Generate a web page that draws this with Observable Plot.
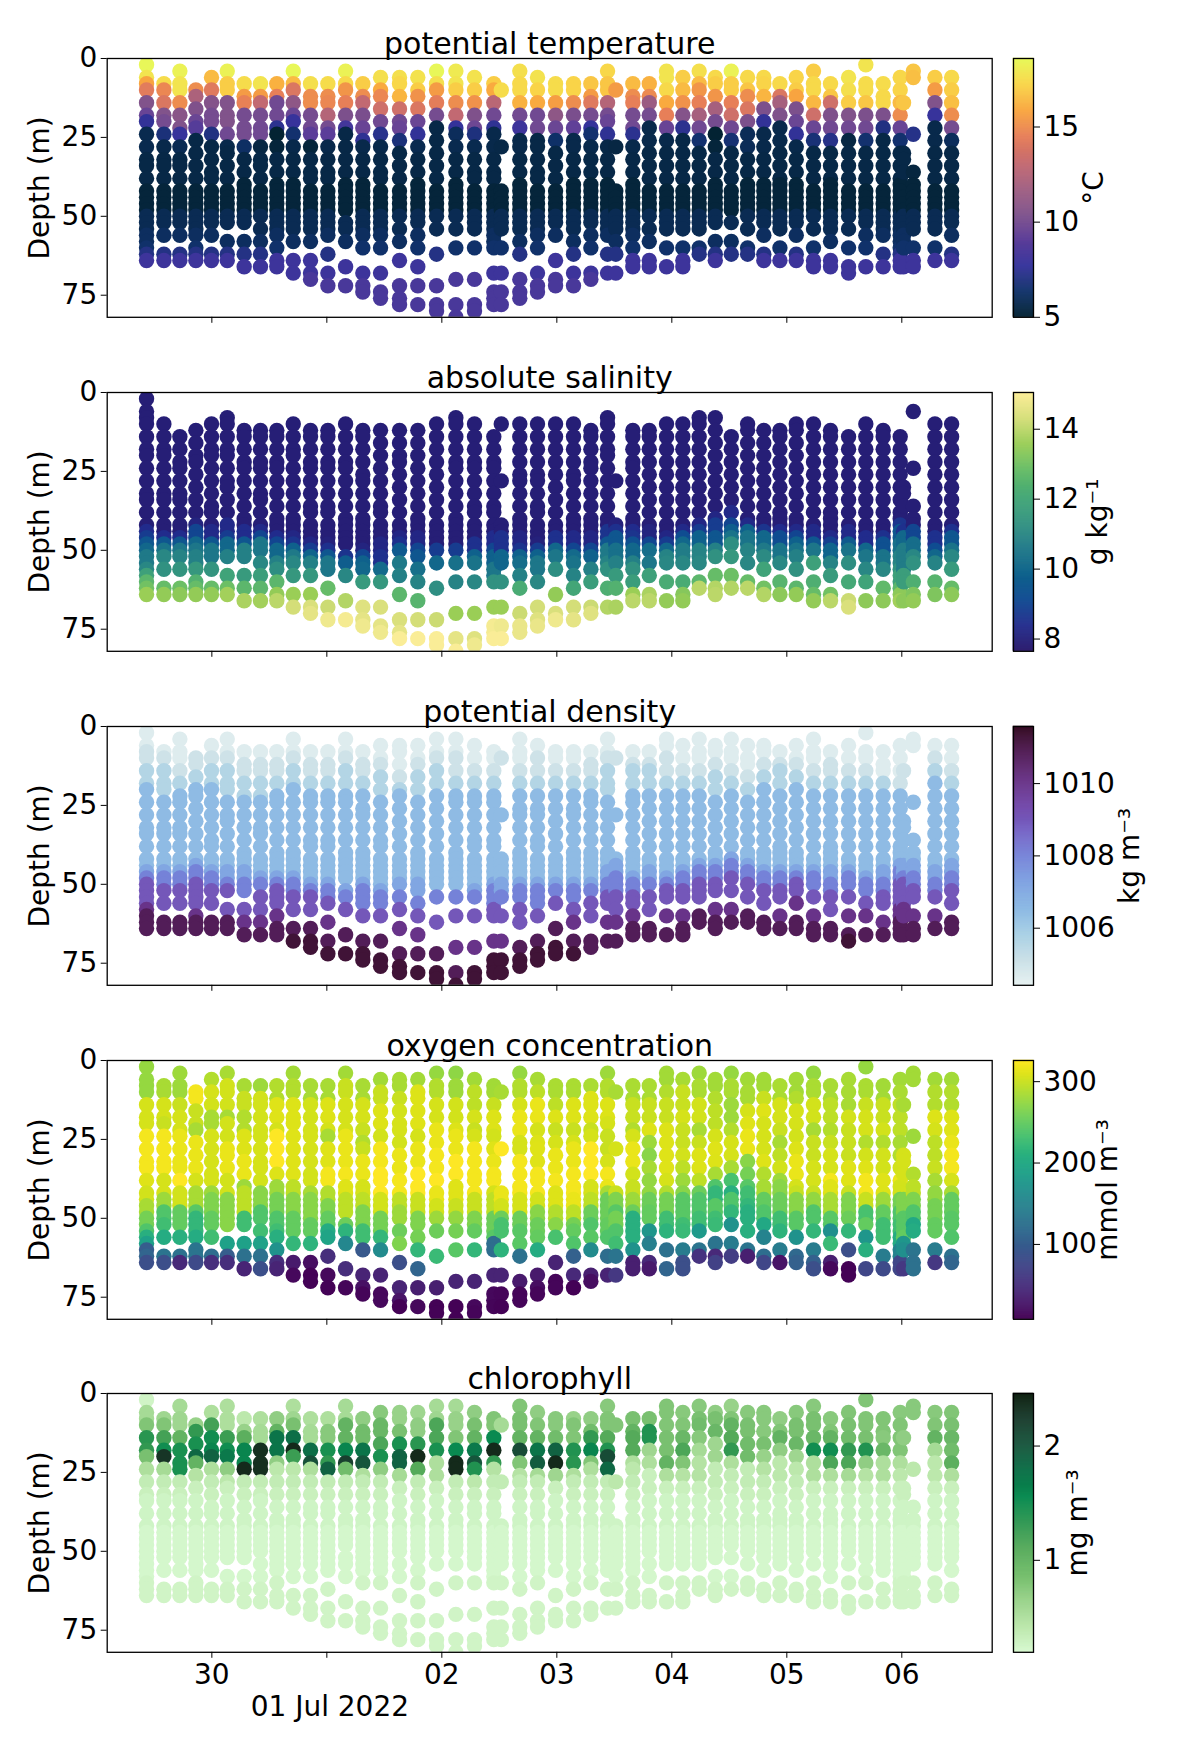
<!DOCTYPE html>
<html><head><meta charset="utf-8">
<script src="https://cdn.jsdelivr.net/npm/d3@7"></script>
<script src="https://cdn.jsdelivr.net/npm/@observablehq/plot@0.6"></script>
<style>
html,body{margin:0;padding:0;background:#fff}
#page{position:relative;width:1200px;height:1750px;overflow:hidden}
#page svg{position:absolute;overflow:visible;background:transparent}
</style></head><body><div id="page"></div>
<script>
// days after 30 Jun 2022 00:00 for each profile
const profileDays=[-0.568,-0.417,-0.278,-0.139,-0.003,0.134,0.281,0.423,0.565,0.708,0.858,1.009,1.163,1.313,1.467,1.632,1.791,1.954,2.122,2.284,2.452,2.517,2.678,2.832,2.989,3.145,3.296,3.441,3.513,3.661,3.804,3.954,4.096,4.238,4.378,4.517,4.659,4.80,4.94,5.082,5.232,5.38,5.537,5.687,5.838,5.986,6.015,6.10,6.288,6.433];
const profileDepths=[
[2,6,8,10,14,18,20,24,28,32,34,38,42,44,46,48,50,52,54,56,58,60,62,64],
[8,10,14,18,20,24,28,32,34,38,42,44,46,48,50,52,56,62,64],
[4,8,10,14,18,22,24,28,32,34,38,42,44,46,48,50,52,56,62,64],
[10,12,16,20,22,26,30,34,38,42,44,46,48,50,52,54,56,60,62,64],
[6,10,14,18,20,24,28,32,36,38,42,44,46,48,50,52,56,62,64],
[4,8,10,14,18,20,24,28,30,34,38,42,44,46,48,50,52,58,62,64],
[8,12,14,18,22,24,28,32,36,40,42,44,46,48,50,52,58,62,66],
[8,12,14,18,22,24,28,32,34,38,42,44,46,48,50,54,58,62,66],
[8,12,14,18,22,24,28,32,36,40,42,44,46,48,50,52,54,56,60,64,66],
[4,8,10,14,18,20,24,28,32,36,40,42,44,46,48,50,52,54,58,64,68],
[8,12,14,18,22,24,28,32,36,38,42,44,46,48,50,52,54,58,64,68,70],
[8,12,14,18,22,24,28,32,36,38,42,44,46,48,50,52,54,56,62,68,72],
[4,8,10,14,18,22,24,28,32,36,40,42,44,46,48,52,54,58,66,72],
[8,12,14,18,22,26,28,32,36,40,42,44,46,48,50,52,54,56,60,68,72,74],
[6,10,12,16,20,24,28,32,36,38,42,44,46,48,50,52,54,56,60,68,74,76],
[6,8,12,16,20,22,26,30,34,38,42,44,46,48,50,54,58,64,72,76,78],
[6,10,12,16,20,24,28,32,36,40,42,44,46,48,50,52,56,60,66,72,78],
[4,8,10,14,18,22,26,30,34,38,42,44,46,48,50,54,62,72,78,80],
[4,8,10,14,18,22,24,28,32,36,40,42,44,46,48,50,54,60,70,78,82],
[6,10,14,18,22,24,28,32,36,38,42,44,46,48,50,52,54,60,70,78,80],
[8,10,14,18,22,24,28,32,36,38,42,44,46,48,50,52,54,56,58,60,68,74,76,78],
[10,28,42,44,46,48,50,52,54,60,68,74,78],
[4,8,10,14,18,22,26,28,32,36,40,42,44,46,48,50,52,54,58,62,70,74,76],
[6,10,14,18,22,26,28,32,36,38,42,44,46,48,50,52,54,56,60,68,72,74],
[8,10,14,18,22,26,30,34,38,42,44,46,48,50,52,56,64,70,72],
[8,10,14,18,22,26,28,32,36,40,42,44,46,48,50,52,54,58,62,68,72],
[8,12,14,18,22,24,28,32,36,40,42,44,46,48,50,52,56,60,68,70],
[4,8,10,14,18,20,24,28,32,36,40,42,44,46,48,50,52,54,56,62,68],
[10,28,42,44,46,48,50,52,54,58,62,68],
[8,12,14,18,22,24,28,32,36,40,42,44,46,48,50,52,54,56,60,64,66],
[8,12,14,18,22,26,30,34,38,42,44,46,48,50,54,58,64,66],
[4,6,10,14,18,22,26,30,34,38,42,44,46,48,50,52,54,60,66],
[6,10,14,18,22,26,30,34,38,42,44,46,48,50,52,54,60,64,66],
[4,8,10,14,18,22,26,30,34,38,42,44,46,48,50,52,54,60,62],
[6,8,12,16,20,24,28,32,36,40,42,44,46,48,50,52,58,62,64],
[4,8,10,14,18,22,26,30,34,38,42,44,46,48,52,58,62],
[6,10,12,16,20,24,28,32,36,40,42,44,46,48,50,54,60,62],
[6,8,12,16,20,24,28,32,36,40,42,44,46,48,50,52,56,62,64],
[8,12,14,18,22,26,30,34,38,40,42,44,46,48,50,52,54,60,64],
[6,10,12,16,20,24,28,32,36,40,42,44,46,48,50,52,56,62,64],
[4,8,10,14,18,22,26,30,34,38,42,44,46,48,50,54,60,64,66],
[8,12,14,18,22,26,30,34,38,40,42,44,46,48,50,52,54,58,64,66],
[6,10,14,18,22,26,30,34,38,42,44,46,48,50,54,60,66,68],
[2,8,10,14,18,22,26,30,34,38,42,44,46,48,50,52,56,60,66],
[8,12,14,18,22,26,30,34,38,42,44,46,48,50,52,54,56,62,66],
[6,10,14,18,22,26,30,34,38,40,42,44,46,48,50,52,54,56,58,60,62,64,66],
[14,30,32,36,44,46,48,50,52,54,56,58,60,66],
[4,6,24,36,40,42,44,46,48,50,52,54,60,64,66],
[6,10,14,18,22,26,30,34,38,42,44,46,48,50,52,54,60,64],
[6,10,14,18,22,26,30,34,38,42,44,46,48,50,52,56,62,64]];
// shallowest depth with a salinity reading, per profile
const salinityFirstDepth=[2,10,12,12,10,8,12,10,10,10,12,12,10,12,12,10,12,10,8,10,12,10,10,10,10,10,10,8,28,12,10,10,10,8,8,12,10,10,10,8,10,10,12,10,10,12,30,6,10,10];

// each list: depth, value, depth, value... the value holds from that depth down to the next one
const tempBands=[
[2,18.5,6,17.8,8,15.8,10,14.3,14,10.5,16,9.8,18,9.5,20,7.6,24,5.7],
[8,17.5,10,14.8,14,14,16,10.5,20,10,24,6.8,28,5.6],
[4,18.3,8,17.8,12,15.5,14,15,18,10.8,22,10.5,24,7.8,28,5.8],
[10,15,12,12.2,16,10.4,20,9.6,22,8.8,24,8,26,5.5],
[6,16.5,10,14.2,14,10.6,18,10,22,9.5,24,7,26,5.5],
[4,18.3,8,17,12,15,14,10.5,18,10.5,22,9.8,26,7.8,28,5.6],
[8,17.5,12,15.5,14,14.6,18,10,26,10,28,6.2,30,5.5],
[8,17.8,12,15.5,14,13,16,11,18,10,22,9.8,26,7.6,28,5.4],
[8,16.2,10,14.5,14,9.8,20,8.5,22,7.4,24,5,28,5.2],
[4,18.5,8,16.5,10,14,14,11,18,9.6,20,7.8,24,6.5,26,5.6],
[8,17.6,12,15,16,12.5,18,10,22,9.8,24,9,26,6.5,28,5.2],
[8,17.5,12,15,14,14.8,18,12.5,20,10,24,9,26,6.3,28,5.6],
[4,18.3,8,17.4,10,15.3,14,14.5,16,10.3,20,10,22,8.2,24,5.5],
[8,17,12,15,14,13,18,10.2,22,9.5,24,8,26,7.5,28,5.6],
[6,17.6,10,16,12,14.8,14,13.5,18,9.8,22,9.5,24,7.3,26,5.6],
[6,17.6,8,17.3,10,16.3,14,14.5,16,13.5,20,9.8,22,9.5,26,6.8,28,5.8],
[6,17.7,10,17,12,15.2,14,14,18,10,20,9.6,24,7.6,28,5.7],
[4,18.5,8,17.6,10,15.5,12,14.4,16,10,20,7.8,22,5.5],
[4,18,8,17.8,10,17,14,15,16,13,20,9.5,22,7.7,24,6,26,5.7],
[6,17.7,10,17,14,15.2,18,10.4,20,9.7,24,6.9,28,5.7],
[8,17,10,16,14,12.7,18,9.8,20,9.5,22,7.5,24,5.6],
[10,17.5,28,5.5],
[4,17.6,8,17.4,12,16.2,16,9.9,20,9.8,22,8,26,5.6],
[6,17.7,10,17.2,12,16,16,9.8,20,9.8,24,7.6,26,5.5],
[8,17.5,12,15.6,16,13,18,11,20,9.6,24,9,26,6.3,28,5.6],
[8,17.2,12,16,14,15,16,13,18,10.2,22,9.2,24,7.6,26,5.6],
[8,16.8,10,15.5,14,14.2,16,10,20,9.5,22,7.7,24,6.5,26,5.6],
[4,17.3,8,16.8,12,16,14,12.5,18,10,20,9.5,24,7.5,26,5.5],
[10,15.5,28,5.4],
[8,16.5,12,15,14,14.5,18,10,20,9.8,24,7.4,26,5.6],
[8,16.2,10,14.9,14,11.5,18,10,20,7.6,22,5.6],
[4,17.8,8,17.6,10,17.4,12,16,16,14.5,20,13,22,9.5,24,7,26,5.6],
[6,17,10,16.5,14,15.2,18,10.6,20,7.4,24,6.2,26,5.5],
[4,17.6,8,16.5,10,15.3,14,14.5,16,12,20,9.8,24,6.5,28,5.5],
[6,17.4,8,17,12,15.3,16,12,18,10,22,8.2,24,5,28,5.2],
[4,18.3,8,17,14,14.5,18,13.5,20,9.8,26,6.6,28,5.6],
[6,17.4,10,16.8,12,15,14,14,18,10.3,22,8,24,5.9],
[6,17.4,8,17.2,12,16.3,14,11.8,16,10.3,20,7.6,22,6,24,5.6],
[8,17.4,12,14,14,12,16,10.4,20,6.5,22,5.6],
[6,17.2,10,17,12,15.8,16,10.3,20,9.6,22,7.6,26,5.6],
[4,17,8,17.4,12,16.4,16,13.5,20,10.3,22,9.6,26,6.7,28,5.6],
[8,17.4,12,16.8,14,13.5,18,10.4,20,9.8,24,7.2,28,5.5],
[6,17.8,8,17.6,12,17,16,14,18,10.5,22,9.8,24,7.5,26,5.4],
[2,17.8,8,17.5,12,16.8,16,13,18,10.3,20,9.8,24,6.5,28,5.4],
[8,17.5,12,17.4,16,15.5,18,10.3,20,8.5,22,7,26,5.5],
[6,17.3,10,17.2,14,16.5,18,15,20,11,22,9.5,24,8.6,26,6.5,28,5.3],
[12,16.8,28,5.5],
[4,16.8,6,16.6,24,7.2,36,5.3],
[6,17,10,15.5,12,14.8,14,10.5,18,7.8,20,6.5,22,5.6],
[6,17.4,10,17,14,16.6,16,15,20,10,24,7,26,6,28,5.6]];
const tempDeep=[30,5.5,40,5.2,50,5.8,56,6.1,60,6.4,62,7.1,64,8,70,8.4];

const salinityTop=7.9;
const salBands=[
[44,8.4,46,8.8,48,9.5,50,10,52,10.6,56,11,58,11.8,60,12.6,62,13,64,13.6],
[46,8.4,48,9.5,50,10.4,52,11,56,11.3,62,12.8,64,13.5],
[46,8.4,48,9.5,50,10.5,52,10.9,56,11.4,62,12.9,64,13.4],
[42,8.1,44,9,48,10,50,10.5,52,10.8,56,11.5,60,12.4,62,12.8,64,13.5],
[44,8.3,48,9.5,50,10.5,54,10.9,56,11.4,62,12.8,64,13.5],
[42,8.3,46,8.8,48,10,52,10.8,58,11.9,62,12.9,64,13.7],
[44,8.4,48,9.5,50,10.8,58,11.6,62,12.6,66,13.8],
[44,8.3,46,9,48,10.5,52,11,58,11.7,62,12.6,66,13.7],
[46,8.4,48,9,50,10,54,10.8,56,11.2,60,12.6,64,13.5,66,14],
[46,8.2,48,8.6,50,9.8,52,10.6,54,11,58,11.5,64,13.6,68,14.3],
[48,8.2,50,8.8,52,9.9,54,10.8,58,11.5,64,13.6,68,14.4,70,14.6],
[48,8,50,8.5,52,9.5,54,10.5,62,12.8,68,14.2,72,14.8],
[50,8.2,52,8.6,54,9.7,58,11,66,13.9,72,14.9],
[50,8.1,52,9,54,9.8,56,10,60,11.6,68,14.5,72,14.6,74,14.8],
[48,8.2,52,8.5,56,10.1,60,11.5,68,14.4,74,14.6,76,14.8],
[46,8.2,48,8.5,50,9.6,54,10.6,58,10.8,64,12.6,72,14.4,76,14.6,78,15],
[46,8.2,50,9,52,9.5,56,10.3,60,10.9,66,12.5,72,14.3,78,15],
[50,8.8,54,10,62,11.2,72,14.2,78,15],
[50,8.8,54,10.3,60,10.9,70,13.6,78,14.6,82,15],
[48,8.5,52,9.8,54,10.4,60,11,70,13.6,78,14.5,80,14.8],
[46,8.4,50,9,52,9.8,56,10.5,60,11.3,68,13.6,74,14.9,78,15],
[46,8.5,52,9.9,60,11.3,68,13.6,74,14.8,78,15],
[46,8.2,50,8.6,52,9.8,54,10.2,58,10.8,62,12.2,70,14.2,74,14.7],
[48,8,50,8.8,52,9.8,54,10.5,60,11,68,14.3,72,14.5,74,14.7],
[46,8.5,50,10,52,10.5,56,11.2,64,13.5,70,14.4,72,14.8],
[46,8.3,50,9,52,10.1,54,10.4,58,10.9,62,12,68,14.3,72,14.6],
[46,8.2,50,9,52,9.8,56,10.8,60,11.7,68,14.2,70,14.5],
[44,8.6,48,9.5,50,10.6,54,10.9,56,11.3,62,12.3,68,13.9],
[42,8,44,8.5,46,9.5,50,10.3,54,10.8,58,11.6,62,12.4,68,13.8],
[44,8.4,46,8.6,48,9.3,50,10,54,10.8,56,11.3,60,11.7,64,13.6,66,14],
[44,8.1,48,9,50,10.2,54,10.5,58,11.8,64,13.8,66,14],
[46,8.2,48,8.8,50,10,52,10.9,54,11,60,12.2,66,13.5],
[44,8.3,46,9.2,48,10,50,10.7,54,11,60,12.2,64,13.3,66,13.5],
[42,8.2,44,8.8,46,9.8,50,10.9,54,11,60,12.6,62,14],
[38,8.2,42,8.8,46,9.5,50,10.8,52,11.3,58,12.8,62,13.9,64,14],
[38,8.3,42,9,44,9.7,46,10.4,48,11.2,52,11.5,58,12.9,62,13.9],
[42,8.3,44,9.8,46,10.4,50,10.9,54,11,60,12.8,62,14],
[44,8.6,46,10,50,10.6,52,11.1,56,11.9,62,13,64,13.9],
[44,8.4,46,9.2,50,10.4,54,11,60,12.5,64,13.4],
[44,8.3,46,9,48,9.8,50,10.4,52,10.8,56,11.3,62,12.6,64,13.5],
[44,8.3,48,9.5,50,10.5,54,11.8,60,12.3,64,12.8,66,13.5],
[46,8.3,48,8.9,50,9.9,54,10.9,58,11.6,64,13,66,14],
[44,8.3,48,9.6,50,10.4,54,11.2,60,12.1,66,14.2,68,14.4],
[46,8.4,50,10,52,10.5,56,11,60,11.9,66,13.4],
[46,8.5,48,9.3,52,10.4,56,11,62,12.7,66,13.4],
[42,8.6,44,9.5,48,10.3,52,10.9,56,11.3,58,11.8,62,12.6,64,13.4,66,13.7],
[42,8.5,46,10,50,10.7,58,11.7,66,13.4],
[44,9,48,10.2,52,11,54,11.3,60,12.3,64,13.2,66,13.5],
[46,8.5,50,9.2,52,10,54,10.9,60,12.5,64,13.2],
[44,8.5,46,9.5,50,10.4,52,11,56,11.6,62,12.8,64,13.4]];

// density levels, and for each profile the depth at which each level is reached (99 = never)
const rhoTop=1004.6;
const rhoLevels=[1005,1005.6,1006.5,1007.1,1008,1009,1010,1010.8,1011.3];
const rhoStarts=[
[8,12,20,46,48,50,58,60,99],[10,14,22,46,48,52,60,62,99],[12,16,22,46,48,52,60,62,99],[10,14,20,44,46,50,58,62,99],[10,14,20,46,48,52,60,62,99],
[10,14,22,46,50,52,60,62,99],[12,16,24,46,50,54,60,64,99],[12,16,24,48,50,54,60,64,99],[12,16,22,48,50,52,60,62,99],[10,14,20,48,50,54,60,64,68],
[12,16,20,50,52,54,62,64,68],[12,16,22,50,52,56,60,66,72],[10,14,20,50,54,56,64,66,72],[12,16,22,50,52,58,66,68,72],[12,16,22,52,54,58,64,68,74],
[14,18,22,50,52,56,64,72,76],[12,16,22,50,54,58,66,72,76],[10,14,20,52,54,60,68,72,78],[10,16,22,52,54,60,70,78,80],[12,16,22,52,54,60,70,76,78],
[12,16,22,50,52,58,66,70,74],[10,28,28,50,54,60,68,72,74],[12,16,22,50,52,58,66,70,74],[10,16,22,50,52,58,66,68,72],[12,16,22,50,52,56,62,64,70],
[12,16,22,50,52,58,62,68,72],[12,16,22,50,52,56,62,68,72],[10,14,22,46,50,54,60,66,70],[10,28,28,44,48,54,60,66,70],[10,14,22,48,50,54,60,64,68],
[10,14,20,46,50,54,60,64,68],[10,16,22,48,50,52,60,64,68],[12,16,22,46,48,52,60,62,68],[12,16,22,44,46,50,56,60,64],[12,16,22,44,46,50,54,60,66],
[12,16,20,42,44,48,54,60,66],[14,18,22,44,46,50,56,60,66],[12,14,20,46,48,52,58,62,68],[12,14,20,46,48,52,58,62,68],[12,16,20,46,48,50,56,62,68],
[14,18,22,46,48,52,58,64,68],[12,16,22,46,50,54,60,64,68],[14,18,22,46,48,52,60,64,68],[14,18,22,48,50,54,60,66,99],[16,18,22,46,50,54,60,66,99],
[16,20,22,44,46,50,58,62,99],[14,20,30,44,48,50,58,66,99],[10,24,24,44,48,52,58,64,99],[10,14,18,46,50,54,60,64,99],[14,16,20,44,48,52,58,62,99]];

const oxyBands=[
[2,276,14,306,24,321,36,311,42,304,46,284,50,259,54,239,56,209,58,189,60,100,62,110,64,85],
[8,284,14,306,20,299,24,321,36,306,44,279,48,239,52,229,56,204,62,130,64,85],
[4,279,12,299,18,306,24,316,36,326,42,304,48,249,56,209,62,125,64,45],
[10,321,14,299,22,284,24,316,36,306,42,284,48,244,50,219,56,204,60,130,64,80],
[6,289,10,306,14,304,18,284,24,306,40,279,44,264,50,249,56,229,62,120,64,50],
[4,284,8,304,16,284,20,304,28,316,38,304,44,269,58,189,62,100,64,50],
[8,284,12,299,16,316,18,289,24,309,32,316,38,279,42,294,50,229,58,189,62,125,66,40],
[8,279,12,304,28,306,36,304,40,269,48,239,54,229,58,189,62,125,66,85],
[8,289,14,311,20,306,24,326,36,309,40,279,44,259,50,239,54,229,56,209,60,170,64,50,66,40],
[4,282,8,289,14,309,24,311,40,294,44,269,50,249,56,229,58,219,64,30,68,15],
[8,284,14,304,24,306,36,304,42,284,44,269,52,249,58,214,64,20,68,10],
[8,284,14,309,20,306,24,284,28,311,36,321,42,289,46,264,50,249,54,204,56,194,62,50,68,15,72,10],
[4,282,8,299,14,306,24,316,36,321,40,311,44,294,52,254,54,214,58,155,66,50,72,12],
[8,284,14,306,20,299,24,289,28,299,32,316,40,306,44,294,48,264,54,229,60,95,68,40,72,22,74,12],
[6,282,10,299,16,309,24,304,28,321,36,326,44,304,50,259,56,219,60,160,68,40,74,15],
[6,284,10,299,14,304,20,306,24,304,28,316,36,321,44,294,48,279,52,254,58,264,64,85,72,40,76,25,78,10],
[6,282,10,309,18,311,24,306,28,316,36,326,44,299,50,264,54,239,56,259,60,219,66,110,72,35,78,15],
[4,276,8,289,14,306,20,316,28,321,36,326,42,316,46,304,50,279,54,254,62,224,72,35,78,10],
[4,272,8,279,14,304,20,309,24,316,32,326,40,311,46,299,50,274,54,259,60,244,70,40,78,10],
[6,282,10,294,16,306,20,299,24,306,28,321,44,299,50,264,54,249,60,219,70,40,78,15,80,12],
[8,282,12,299,18,309,24,304,28,311,32,316,36,321,42,306,44,294,50,254,56,244,58,120,68,40,74,15,78,12],
[10,284,28,326,42,316,46,304,50,254,52,234,60,214,68,40,74,12,78,10],
[4,276,8,289,14,306,18,316,24,306,32,321,44,306,50,254,54,244,62,125,70,30,74,12],
[6,284,10,294,14,316,20,306,24,309,28,311,36,321,44,304,48,269,52,254,56,249,60,204,68,30,72,20,74,12],
[8,286,12,294,16,309,20,299,24,306,30,316,36,321,42,309,48,289,52,269,56,234,64,38,70,12],
[8,286,14,309,20,299,24,306,28,316,36,321,44,316,48,294,52,259,54,249,58,239,62,105,68,45,72,10],
[8,286,12,309,20,299,24,306,28,326,40,306,44,294,48,254,52,239,56,244,60,160,68,35,70,20],
[4,279,8,289,14,309,20,306,24,299,30,306,34,321,38,316,42,284,44,254,52,249,56,239,62,120,68,40],
[10,284,28,306,42,299,44,264,48,244,50,259,54,239,58,229,62,130,68,60],
[8,286,14,299,20,289,24,306,28,316,36,304,40,299,44,279,48,254,50,209,60,170,64,35],
[8,286,14,299,20,309,24,279,28,269,32,284,38,274,44,254,48,249,54,175,58,145,64,45,66,30],
[4,282,8,289,12,299,20,309,28,311,36,306,40,289,44,259,50,229,54,214,60,125,66,110],
[6,284,10,299,16,306,20,299,28,304,32,294,36,279,40,269,44,244,52,229,54,224,60,140,64,85],
[4,279,8,286,14,304,20,284,24,299,30,309,36,294,40,269,42,254,44,239,50,229,54,180,60,130,62,55],
[6,282,10,289,14,294,22,306,28,311,32,309,36,284,38,239,42,219,46,244,50,229,52,224,58,130,62,45,64,70],
[4,276,8,286,14,279,20,289,26,306,32,294,34,284,38,234,42,209,44,239,48,219,52,170,58,140,62,65],
[6,282,10,284,14,306,20,311,24,316,32,269,34,259,38,244,42,229,46,219,48,209,52,175,54,209,60,130,62,35],
[6,282,10,299,14,311,20,306,32,311,36,289,40,284,44,249,48,239,52,199,56,150,62,120,64,75],
[8,286,14,306,20,299,24,284,28,294,32,304,36,279,40,269,44,254,50,229,54,214,60,140,64,25],
[6,282,12,289,16,306,22,304,26,309,30,316,38,306,42,299,44,269,50,244,54,180,56,170,62,115,64,105],
[4,276,8,286,14,304,20,299,22,284,26,299,32,306,40,299,44,274,48,239,52,234,54,219,60,140,64,105,66,85],
[8,284,14,294,20,289,24,299,28,306,36,321,40,311,44,284,50,244,54,165,58,224,64,35,66,15],
[6,284,16,304,20,299,26,299,32,311,40,306,42,299,44,264,50,254,54,219,60,85,66,10],
[2,276,8,286,14,299,18,306,24,289,28,304,32,311,36,321,44,299,48,234,52,249,56,175,60,209,66,75],
[8,282,14,299,20,304,24,289,28,304,36,311,40,309,44,279,48,249,52,229,62,140,66,80],
[6,282,10,286,14,294,24,284,28,289,32,304,36,316,40,304,44,259,48,239,52,229,56,204,60,150,64,75],
[14,284,30,306,44,264,50,244,56,249,58,175,60,165,66,60],
[4,282,24,279,36,289,40,294,44,264,48,239,52,199,54,204,60,130,64,125],
[6,282,10,289,16,309,20,306,26,294,34,299,38,284,42,274,46,259,52,249,60,140,64,60],
[6,282,10,289,16,309,20,311,26,316,30,321,36,306,40,284,44,249,50,244,56,239,62,125,64,110]];

const chlBands=[
[2,.25,6,.55,10,.8,14,1.35,18,1.3,20,.85,24,.5],
[8,.6,10,.8,14,1.2,18,1.5,20,2.3,24,.55],
[4,.55,8,.6,12,.85,14,1,18,1.45,26,.4],
[10,.65,12,1.3,16,1.45,18,1.85,22,1,26,.45],
[6,.5,10,1.2,14,1.5,18,1.6,20,1.9,24,.5],
[4,.5,12,.75,14,1.25,18,1.5,20,1.7,24,.7,28,.4],
[8,.4,12,.65,14,1.05,18,1.6,24,2.4,26,.5],
[8,.5,12,.55,16,1.3,18,2.35,26,.65],
[8,.7,12,1,14,1.75,22,.7,24,.4],
[4,.5,8,.6,10,.85,14,1.8,18,2.4,20,1.25,24,.4],
[8,.5,12,.55,16,1.3,18,1.8,22,2.05,24,.5],
[8,.5,12,.75,16,1.3,18,1.45,22,1.3,24,1.9,26,.5],
[4,.55,10,1,16,1.6,20,2.2,24,.9],
[8,.7,12,.9,16,1.55,18,1.75,22,2,26,.5],
[6,.75,10,.95,14,1.15,18,1.85,20,1.45,24,.7],
[6,.65,10,.85,16,1.45,20,1.9,24,.55],
[6,.6,10,.7,14,1.35,18,1.9,20,2.4,24,1.1],
[4,.55,8,.6,10,1.15,16,1.45,22,.5],
[4,.55,8,.65,14,.8,16,1.55,20,1.4,22,2.4,26,.6],
[6,.7,10,.85,14,1,18,1.7,20,2,24,1.4,28,.4],
[8,.8,12,1,14,1.55,18,2.4,22,1.3,24,.45],
[10,.55,28,.35],
[4,.8,8,.85,12,1,16,2.1,22,.8,26,.45],
[6,.7,10,.8,12,1,16,1.75,20,1.95,24,.55],
[8,.75,12,.85,14,.9,18,1.9,20,2.4,24,.6],
[8,.65,10,.8,16,1.4,20,1.85,22,1.35,26,.5],
[8,.7,10,.9,14,1.3,16,1.6,20,.8,24,.5],
[4,.75,8,.8,12,1.1,16,1.4,20,2.1,22,1.85,26,.75],
[10,.8,28,.4],
[8,.85,12,1,14,1.1,20,.5,24,.4],
[8,.85,12,1.4,16,.6,20,.5,24,.3],
[4,.8,14,.85,20,1,24,1.2,26,.5],
[6,.75,10,.8,14,.95,18,1.15,20,.8,24,.45],
[4,.75,8,.85,10,.9,14,.75,18,.55,22,.45],
[6,.7,8,.85,12,.95,16,.6,24,.35],
[4,.65,8,.8,10,1,14,1.1,18,1.3,20,.5,24,.35],
[6,.75,10,.85,14,.9,22,.9,24,.35],
[6,.75,14,.85,18,.65,22,.45],
[6,.7,10,.8,14,1,18,.7,22,.4],
[6,.75,10,.85,14,.95,18,.6,22,.4],
[4,.75,8,.85,12,.95,16,1.5,20,1.9,22,.5],
[6,.75,10,.8,14,1,16,1.5,20,1.6,22,1.15,26,.5],
[6,.8,10,.85,14,.9,18,1.3,20,1.15,24,.55],
[2,.8,12,.85,16,1.4,20,2.2,22,.7,26,.45],
[8,.8,14,.75,18,.95,22,.5],
[6,.75,10,.8,22,.5,26,.4],
[12,.7,30,.3],
[4,.75,24,.4],
[6,.75,10,.8,14,1,18,.55,22,.4],
[6,.8,10,.85,14,.95,18,.9,20,1.05,24,.5]];
const chlDeep=[28,.35,30,.3,34,.26,44,.22,60,.25];

// colormap stops
const thermalStops=["#032333","#0f3169","#35329b","#5d3e99","#80528b","#a15e80","#c66b70","#e77f58","#f9a63e","#f9d548","#e7fa5a"];
const halineStops=["#29186b","#212b8c","#0f4a91","#0f638c","#1f7988","#329380","#45a876","#67bd67","#98cd55","#d5de78","#fdee99"];
const denseStops=["#e6f1f1","#c8dfe6","#a7cfe5","#8cb9e4","#7da0e1","#7582d8","#7663c5","#7246a7","#652e81","#501b54","#360e24"];
const algaeStops=["#d7f9d0","#b9e6a8","#98d289","#75be6d","#55aa5a","#2d9650","#088a50","#0c7048","#16553c","#193c2d","#122414"];

const panelTops=[58.3,392,725.8,1059.5,1393.3];
const panelHeight=258.8;
const depthDomain=[0,82];
const titles=["potential temperature","absolute salinity","potential density","oxygen concentration","chlorophyll"];
const units=["°C","g kg⁻¹","kg m⁻³","mmol m⁻³","mg m⁻³"];
const unitOffsets=[61,65,97,75,45];
const colorDomains=[[5,18.6],[7.65,15.05],[1004.42,1011.58],[8,326],[.195,2.46]];
const colorTicks=[[5,10,15],[8,10,12,14],[1006,1008,1010],[100,200,300],[1,2]];
const colorMaps=[thermalStops,halineStops,denseStops,null,algaeStops];
const dayTicks=[0,1,2,3,4,5,6];
const dayTickLabels=["30","","02","03","04","05","06"];
const offsetLabel="01 Jul 2022";
const FONT="'DejaVu Sans'";
const tickFont=28, titleFont=30, labelFont=28;

const toDate=d=>new Date(Date.UTC(2022,5,30)+d*864e5);
function band(list,d,fallback){
  let v=fallback;
  for(let k=0;k<list.length;k+=2){ if(list[k]<=d) v=list[k+1]; else { if(v===undefined) v=list[k+1]; break; } }
  return v;
}
function merged(list,deep){
  const last=list[list.length-2];
  const rest=[];
  for(let k=0;k<deep.length;k+=2) if(deep[k]>last) rest.push(deep[k],deep[k+1]);
  return list.concat(rest);
}
function rhoAt(i,d){
  let v=rhoTop;
  rhoStarts[i].forEach((s,k)=>{ if(s<=d) v=rhoLevels[k]; });
  return v;
}
const rows=[];
profileDepths.forEach((depths,i)=>depths.forEach(depth=>{
  rows.push({t:toDate(profileDays[i]),depth,
    v0:band(merged(tempBands[i],tempDeep),depth),
    v1:depth>=salinityFirstDepth[i]?band(salBands[i],depth,salinityTop):null,
    v2:rhoAt(i,depth),
    v3:band(oxyBands[i],depth),
    v4:band(merged(chlBands[i],chlDeep),depth)});
}));
function colorScale(k){
  const o={type:"linear",domain:colorDomains[k],clamp:true};
  if(colorMaps[k]) o.interpolate=d3.piecewise(d3.interpolateRgb,colorMaps[k]);
  else o.scheme="viridis";
  return o;
}
const page=document.getElementById("page");
const mT=50;
panelTops.forEach((top,k)=>{
  const last=k===4;
  const mB=last?96:20;
  const marks=[
    Plot.dot(rows.filter(r=>r["v"+k]!=null),{x:"t",y:"depth",r:7.7,fill:"v"+k,clip:true}),
    Plot.frame({stroke:"#000",strokeWidth:1.3}),
    Plot.axisY({ticks:[0,25,50,75],tickSize:6,tickPadding:4,label:null,fontSize:tickFont,stroke:"#000"}),
    Plot.axisX({ticks:dayTicks.map(toDate),tickSize:6,tickPadding:6,label:null,fontSize:tickFont,stroke:"#000",
      tickFormat:d=>last?dayTickLabels[dayTicks.findIndex(x=>+toDate(x)===+d)]:""}),
    Plot.text([titles[k]],{frameAnchor:"top",lineAnchor:"bottom",dy:-4,text:d=>d,fontSize:titleFont,fill:"#000"}),
    Plot.text(["Depth (m)"],{frameAnchor:"left",textAnchor:"middle",dx:-67,rotate:-90,text:d=>d,fontSize:labelFont,fill:"#000"})
  ];
  if(last) marks.push(Plot.text([offsetLabel],{x:()=>toDate(1),frameAnchor:"bottom",dy:64,dx:3,text:d=>d,fontSize:tickFont,fill:"#000"}));
  const svg=Plot.plot({width:1000,height:panelHeight+mT+mB,marginLeft:106.7,marginRight:8.3,marginTop:mT,marginBottom:mB,
    style:{fontFamily:FONT,overflow:"visible",background:"transparent"},
    x:{type:"utc",domain:[toDate(-0.91),toDate(6.786)]},
    y:{domain:depthDomain,reverse:true},
    color:colorScale(k),
    marks});
  svg.style.left="0px"; svg.style.top=(top-mT)+"px";
  page.appendChild(svg);

  // colour bar
  const [lo,hi]=colorDomains[k];
  const steps=d3.range(256).map(j=>({a:lo+(hi-lo)*j/256,b:lo+(hi-lo)*(j+1)/256}));
  const bar=Plot.plot({width:187,height:panelHeight+mT+mB,marginLeft:0,marginRight:167,marginTop:mT,marginBottom:mB,
    style:{fontFamily:FONT,overflow:"visible",background:"transparent"},
    x:{domain:[0,1],axis:null},
    y:{domain:colorDomains[k]},
    color:colorScale(k),
    marks:[
      Plot.rect(steps,{x1:0,x2:1,y1:"a",y2:"b",fill:d=>(d.a+d.b)/2,stroke:d=>(d.a+d.b)/2,strokeWidth:.6}),
      Plot.frame({stroke:"#000",strokeWidth:1.3}),
      Plot.axisY({anchor:"right",ticks:colorTicks[k],tickSize:6,tickPadding:4,label:null,fontSize:tickFont,stroke:"#000",tickFormat:d=>String(d)}),
      Plot.text([units[k]],{frameAnchor:"right",textAnchor:"middle",dx:unitOffsets[k],rotate:-90,text:d=>d,fontSize:labelFont,fill:"#000"})
    ]});
  bar.style.left="1013.3px"; bar.style.top=(top-mT)+"px";
  page.appendChild(bar);
});
</script></body></html>
